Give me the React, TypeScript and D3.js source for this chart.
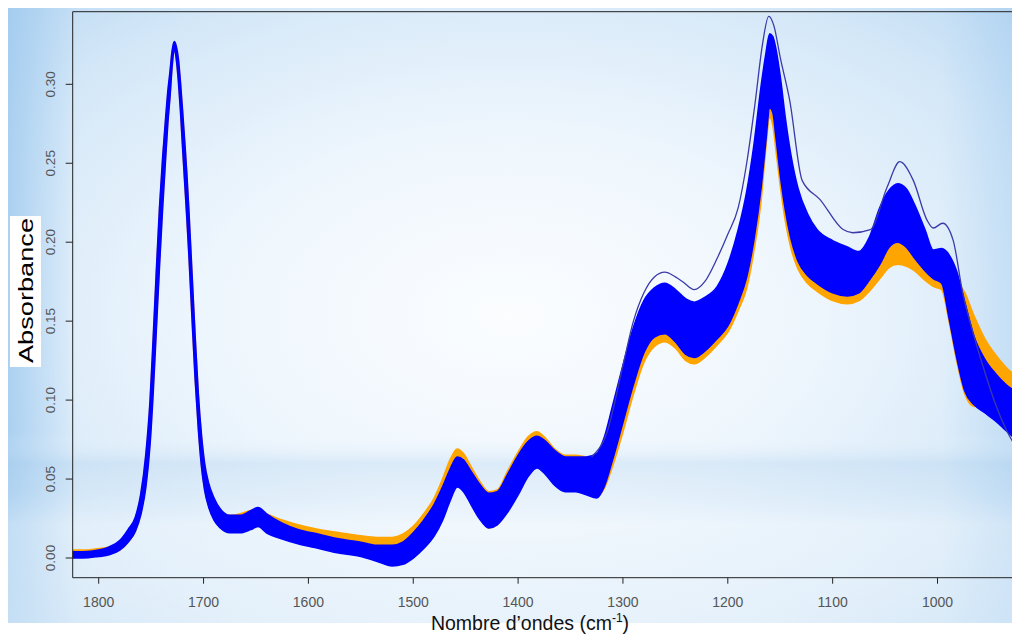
import React from 'react';
import * as d3 from 'd3';

// wavenumbers (cm-1), ordered from left to right on the reversed axis
const wavenumbers = [
  1826, 1815, 1800, 1790, 1780, 1772, 1765, 1760, 1755, 1751, 1748, 1745, 1742, 1739, 1736, 1734,
  1732, 1730, 1728, 1726, 1724, 1722, 1720, 1718, 1716, 1714, 1711, 1708, 1705, 1702, 1699, 1695,
  1690, 1684, 1675, 1665, 1655, 1648, 1640, 1625, 1610, 1590, 1570, 1550, 1535, 1520, 1510, 1500,
  1490, 1480, 1472, 1465, 1458, 1452, 1445, 1437, 1428, 1420, 1410, 1400, 1390, 1382, 1374, 1365,
  1355, 1345, 1335, 1325, 1318, 1310, 1300, 1290, 1280, 1270, 1260, 1250, 1240, 1232, 1222, 1210,
  1200, 1190, 1182, 1175, 1168, 1164, 1160, 1157, 1154, 1150, 1145, 1140, 1133, 1124, 1115, 1100,
  1086, 1075, 1065, 1055, 1046, 1038, 1030, 1022, 1012, 1004, 996, 989, 982, 974, 965, 955,
  945, 935, 925,
];

// blue group: lower / upper envelope of the spectra
const blueLow = [
  0.0, 0.0, 0.001, 0.002, 0.005, 0.01, 0.017, 0.027, 0.045, 0.072, 0.105, 0.145, 0.185, 0.222, 0.255, 0.276,
  0.292, 0.311, 0.322, 0.316, 0.302, 0.283, 0.26, 0.238, 0.216, 0.192, 0.152, 0.113, 0.082, 0.058, 0.043, 0.032,
  0.024, 0.019, 0.016, 0.016, 0.018, 0.02, 0.016, 0.012, 0.009, 0.006, 0.003, 0.001, -0.002, -0.005, -0.004, 0.0,
  0.006, 0.014, 0.024, 0.036, 0.045, 0.042, 0.034, 0.025, 0.019, 0.021, 0.029, 0.04, 0.052, 0.057, 0.053, 0.046,
  0.042, 0.042, 0.04, 0.038, 0.045, 0.062, 0.086, 0.11, 0.13, 0.14, 0.142, 0.137, 0.129, 0.127, 0.131, 0.139,
  0.147, 0.162, 0.178, 0.202, 0.236, 0.262, 0.285, 0.282, 0.266, 0.243, 0.22, 0.203, 0.188, 0.179, 0.174, 0.168,
  0.166, 0.168, 0.176, 0.186, 0.197, 0.2, 0.197, 0.19, 0.182, 0.177, 0.174, 0.152, 0.128, 0.106, 0.097, 0.092,
  0.087, 0.081, 0.075,
];
const blueHigh = [
  0.004, 0.004, 0.005, 0.007, 0.011, 0.018, 0.026, 0.04, 0.066, 0.1, 0.14, 0.182, 0.222, 0.254, 0.28, 0.296,
  0.308, 0.321, 0.327, 0.324, 0.316, 0.301, 0.283, 0.264, 0.244, 0.22, 0.18, 0.14, 0.104, 0.078, 0.06, 0.047,
  0.038, 0.031, 0.027, 0.027, 0.03, 0.032, 0.028, 0.022, 0.018, 0.015, 0.012, 0.01, 0.008, 0.008, 0.01, 0.016,
  0.024, 0.034, 0.045, 0.056, 0.064, 0.062, 0.055, 0.047, 0.041, 0.042, 0.053, 0.065, 0.074, 0.077, 0.074, 0.068,
  0.064, 0.064, 0.064, 0.066, 0.076, 0.096, 0.122, 0.146, 0.163, 0.171, 0.174, 0.17, 0.164, 0.162, 0.165, 0.172,
  0.186, 0.208, 0.232, 0.262, 0.3, 0.318, 0.332, 0.33, 0.322, 0.305, 0.278, 0.256, 0.234, 0.218, 0.208, 0.201,
  0.197, 0.194, 0.203, 0.222, 0.233, 0.237, 0.234, 0.224, 0.208, 0.195, 0.196, 0.192, 0.182, 0.162, 0.14, 0.126,
  0.117, 0.11, 0.105,
];

// orange group: lower / upper envelope of the spectra
const orangeLow = [
  0.001, 0.001, 0.002, 0.003, 0.005, 0.01, 0.017, 0.028, 0.047, 0.075, 0.108, 0.148, 0.188, 0.225, 0.257, 0.278,
  0.293, 0.312, 0.322, 0.316, 0.303, 0.284, 0.261, 0.239, 0.217, 0.193, 0.153, 0.114, 0.083, 0.059, 0.044, 0.033,
  0.025, 0.02, 0.017, 0.017, 0.019, 0.021, 0.018, 0.014, 0.012, 0.01, 0.008, 0.007, 0.006, 0.005, 0.006, 0.009,
  0.014, 0.022, 0.032, 0.043, 0.051, 0.048, 0.038, 0.028, 0.019, 0.021, 0.03, 0.042, 0.054, 0.058, 0.054, 0.047,
  0.043, 0.043, 0.041, 0.039, 0.044, 0.058, 0.08, 0.104, 0.124, 0.134, 0.137, 0.133, 0.125, 0.123, 0.127, 0.135,
  0.143, 0.157, 0.171, 0.195, 0.228, 0.258, 0.279, 0.274, 0.258, 0.236, 0.213, 0.197, 0.183, 0.174, 0.169, 0.163,
  0.161, 0.163, 0.169, 0.177, 0.184, 0.186, 0.185, 0.182, 0.176, 0.172, 0.17, 0.15, 0.126, 0.104, 0.096, 0.098,
  0.096, 0.094, 0.092,
];
const orangeHigh = [
  0.005, 0.005, 0.006, 0.007, 0.01, 0.017, 0.025, 0.039, 0.064, 0.098, 0.137, 0.18, 0.22, 0.252, 0.278, 0.294,
  0.306, 0.32, 0.326, 0.323, 0.315, 0.3, 0.282, 0.263, 0.243, 0.219, 0.179, 0.139, 0.103, 0.077, 0.059, 0.046,
  0.037, 0.03, 0.027, 0.028, 0.03, 0.031, 0.028, 0.024, 0.021, 0.018, 0.016, 0.014, 0.013, 0.013, 0.015, 0.02,
  0.028, 0.038, 0.05, 0.062, 0.069, 0.066, 0.058, 0.049, 0.042, 0.043, 0.055, 0.067, 0.077, 0.08, 0.076, 0.069,
  0.065, 0.065, 0.064, 0.065, 0.074, 0.09, 0.112, 0.135, 0.15, 0.156, 0.158, 0.153, 0.147, 0.145, 0.15, 0.158,
  0.166, 0.182, 0.2, 0.225, 0.255, 0.272, 0.284, 0.282, 0.272, 0.252, 0.23, 0.214, 0.2, 0.19, 0.184, 0.178,
  0.175, 0.178, 0.185, 0.193, 0.199, 0.2, 0.199, 0.195, 0.189, 0.184, 0.183, 0.181, 0.176, 0.168, 0.153, 0.139,
  0.129, 0.121, 0.115,
];

// single spectrum lying above the others
const outlierWn = [
  1330, 1315, 1300, 1290, 1280, 1270, 1260, 1250, 1243, 1232, 1222, 1210, 1200, 1190, 1182, 1174, 1167,
  1161, 1156, 1150, 1141, 1129, 1112, 1090, 1081, 1064, 1048, 1036, 1023, 1010, 1004, 995, 985, 976, 965,
  955, 945, 935, 925,
];
const outlierAbs = [
  0.064, 0.08, 0.122, 0.15, 0.168, 0.178, 0.181, 0.178, 0.175, 0.17, 0.175, 0.19, 0.205, 0.222, 0.25, 0.288, 0.325,
  0.343, 0.337, 0.317, 0.29, 0.239, 0.227, 0.208, 0.206, 0.208, 0.235, 0.251, 0.239, 0.214, 0.209, 0.212, 0.201,
  0.168, 0.14, 0.118, 0.098, 0.082, 0.07,
];

const xTicks = [1800, 1700, 1600, 1500, 1400, 1300, 1200, 1100, 1000];
const yTicks = [0, 0.05, 0.1, 0.15, 0.2, 0.25, 0.3];

const W = 1012,
  H = 636,
  plotLeft = 72.7,
  plotTop = 11.7,
  plotBottom = 577.7,
  plotRight = 1030;

export default function App() {
  const x = d3.scaleLinear().domain([1800, 1000]).range([98.7, 937.5]);
  const y = d3.scaleLinear().domain([0, 0.3]).range([558, 84.3]);

  const idx = wavenumbers.map((_, i) => i);
  const band = (lo: number[], hi: number[]) =>
    d3
      .area<number>()
      .x((i) => x(wavenumbers[i]))
      .y0((i) => y(lo[i]))
      .y1((i) => y(hi[i]))
      .curve(d3.curveMonotoneX)(idx);

  const outlierLine = d3
    .line<number>()
    .x((i) => x(outlierWn[i]))
    .y((i) => y(outlierAbs[i]))
    .curve(d3.curveMonotoneX)(outlierWn.map((_, i) => i));

  const font = '"Liberation Sans", Arial, sans-serif';

  return (
    <svg
      width={W}
      height={H}
      style={{ position: 'absolute', left: 0, top: 0 }}
    >
      <defs>
        <radialGradient id="bg" cx="0.5" cy="0.5" r="0.75">
          <stop offset="0" stopColor="#fbfdff" />
          <stop offset="0.4" stopColor="#eef6fd" />
          <stop offset="0.75" stopColor="#d5e8f8" />
          <stop offset="1" stopColor="#b8d7f2" />
        </radialGradient>
        <linearGradient id="leftEdge" x1="0" y1="0" x2="1" y2="0">
          <stop offset="0" stopColor="#9cc8ee" stopOpacity="0.75" />
          <stop offset="0.07" stopColor="#9cc8ee" stopOpacity="0" />
          <stop offset="0.93" stopColor="#9cc8ee" stopOpacity="0" />
          <stop offset="1" stopColor="#9cc8ee" stopOpacity="0.35" />
        </linearGradient>
        <linearGradient id="stripe" x1="0" y1="0" x2="0" y2="1">
          <stop offset="0" stopColor="#ffffff" stopOpacity="0" />
          <stop offset="0.69" stopColor="#ffffff" stopOpacity="0" />
          <stop offset="0.74" stopColor="#a9cdec" stopOpacity="0.3" />
          <stop offset="0.78" stopColor="#bcd8f0" stopOpacity="0.22" />
          <stop offset="0.84" stopColor="#ffffff" stopOpacity="0.3" />
          <stop offset="1" stopColor="#ffffff" stopOpacity="0.35" />
        </linearGradient>
        <clipPath id="plot">
          <rect
            x={plotLeft}
            y={plotTop}
            width={plotRight - plotLeft}
            height={plotBottom - plotTop}
          />
        </clipPath>
      </defs>

      <rect x={0} y={0} width={W} height={H} fill="#ffffff" />
      <rect x={8} y={8} width={W - 8} height={615} fill="url(#bg)" />
      <rect x={8} y={8} width={W - 8} height={615} fill="url(#leftEdge)" />
      <rect x={8} y={8} width={W - 8} height={615} fill="url(#stripe)" />

      <g clipPath="url(#plot)">
        <path
          d={band(orangeLow, orangeHigh) || ''}
          fill="#ffa500"
          stroke="#ffa500"
          strokeWidth={1.6}
        />
        <path
          d={band(blueLow, blueHigh) || ''}
          fill="#0000ff"
          stroke="#0000ff"
          strokeWidth={1.6}
        />
        <path
          d={outlierLine || ''}
          fill="none"
          stroke="#3a3aa8"
          strokeWidth={1.3}
        />
      </g>

      {/* box */}
      <line x1={plotLeft} x2={plotLeft} y1={plotTop} y2={plotBottom} stroke="#222" />
      <line x1={plotLeft} x2={W} y1={plotTop} y2={plotTop} stroke="#222" />
      <line x1={plotLeft} x2={W} y1={plotBottom} y2={plotBottom} stroke="#222" />

      {/* y axis */}
      {yTicks.map((t) => (
        <g key={t}>
          <line
            x1={plotLeft - 7}
            x2={plotLeft}
            y1={y(t)}
            y2={y(t)}
            stroke="#222"
          />
          <text
            transform={`translate(55,${y(t)}) rotate(-90)`}
            textAnchor="middle"
            fontFamily={font}
            fontSize={13.5}
            fill="#555"
          >
            {t.toFixed(2)}
          </text>
        </g>
      ))}

      {/* x axis */}
      {xTicks.map((t) => (
        <g key={t}>
          <line
            x1={x(t)}
            x2={x(t)}
            y1={plotBottom}
            y2={plotBottom + 6}
            stroke="#222"
          />
          <text
            x={x(t)}
            y={606.5}
            textAnchor="middle"
            fontFamily={font}
            fontSize={14}
            fill="#555"
          >
            {t}
          </text>
        </g>
      ))}

      {/* axis titles */}
      <rect x={10} y={216} width={31} height={151} fill="#ffffff" />
      <text
        transform="translate(33,290.5) rotate(-90)"
        textAnchor="middle"
        fontFamily={font}
        fontSize={20}
        fill="#000"
        textLength={145}
        lengthAdjust="spacingAndGlyphs"
      >
        Absorbance
      </text>
      <text
        x={530}
        y={630}
        textAnchor="middle"
        fontFamily={font}
        fontSize={19.5}
        fill="#111"
      >
        Nombre d’ondes (cm
        <tspan fontSize={12} dy={-8}>
          -1
        </tspan>
        <tspan dy={8}>)</tspan>
      </text>
    </svg>
  );
}
